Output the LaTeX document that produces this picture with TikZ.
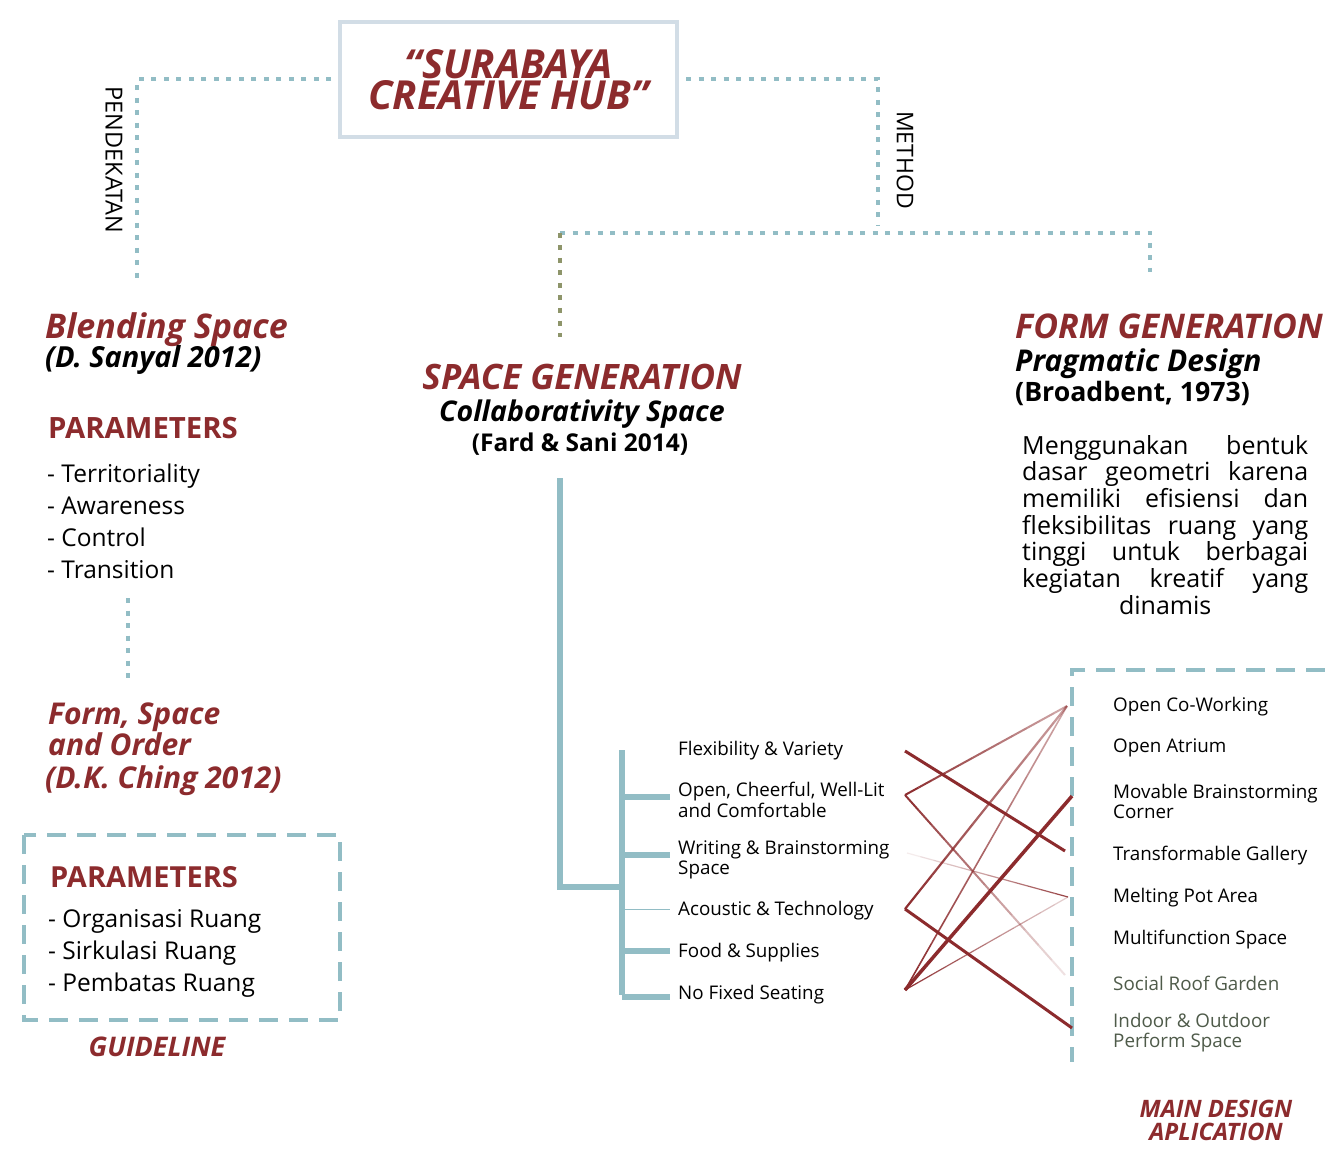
\documentclass[tikz,border=0pt]{standalone}
\usepackage{fontspec}
\setmainfont{Open Sans}
\usetikzlibrary{calc}
\definecolor{dred}{HTML}{8C2B2D}
\definecolor{teal1}{HTML}{92BDC5}
\definecolor{olive1}{HTML}{8E956A}
\definecolor{gtext}{HTML}{4F5B4A}
\definecolor{boxb}{HTML}{D2DDE6}
\newcommand\fz[2]{\fontsize{#1}{#2}\selectfont}
\newcommand\fadeln[5]{%
  \foreach \i in {0,...,11}{%
    \pgfmathsetmacro\op{#3+(#4-#3)*(\i+0.5)/12}%
    \draw[dred, line width=#5, opacity=\op] ($(#1)!{\i/12}!(#2)$) -- ($(#1)!{(\i+1)/12}!(#2)$);
  }}
\begin{document}
\begin{tikzpicture}[x=1pt,y=-1pt,
  txt/.style={anchor=west,inner sep=0pt,text height=0pt,text depth=0pt},
  ctxt/.style={txt,anchor=center},
  fnt/.style n args={2}{font=\fz{#1}{#1}#2,yshift={-0.357*#1}},
  item/.style={txt,fnt={18.8}{}},
  gitem/.style={item,text=gtext},
  listit/.style={txt,fnt={24.5}{}},
  dotline/.style={teal1,line width=4pt,dash pattern=on 5pt off 7.5pt},
  dashbox/.style={teal1,line width=4pt,dash pattern=on 19pt off 11pt},
  tree/.style={teal1,line width=5.5pt},
  rl/.style={dred,line width=3pt},
  vlab/.style={anchor=center,inner sep=0pt,rotate=-90,font=\fz{23.5}{25}},
]
\fill[white] (0,0) rectangle (1325,1150);
\useasboundingbox (0,0) rectangle (1325,1150);

% ---------- title
\node[draw=boxb,line width=4pt,minimum width=337pt,minimum height=115pt,inner sep=0pt,
      align=center,font=\fz{40}{31}\bfseries\itshape,text=dred] (title) at (508.5,79.5)
      {“SURABAYA\\CREATIVE HUB”};

% ---------- dotted connectors
\coordinate (pl) at (137,285);
\draw[dotline] ([xshift=-7pt]title.west) -| (pl);
\node[vlab] (pend) at (114,160) {PENDEKATAN};

\coordinate (mt) at (878,226);
\draw[dotline] ([xshift=7pt]title.east) -| (mt);
\node[vlab,font=\fz{23}{25}] (meth) at (905,160) {METHOD};

\coordinate (hl) at (560,233);
\coordinate (hr) at (1150,272);
\coordinate (sgt) at (560,337);
\draw[dotline] (hl) -| (hr);
\draw[dotline,olive1] (hl) -- (sgt);

% ---------- left column
\node[txt,fnt={34}{\bfseries\itshape},text=dred] (blend) at (45,326) {Blending Space};
\node[txt,fnt={29}{\bfseries\itshape}] (blendsub) at (45,357) {(D. Sanyal 2012)};
\node[txt,fnt={29.3}{\bfseries},text=dred] (par1) at (48,428) {PARAMETERS};
\node[listit] (l1) at (47,474) {- Territoriality};
\node[listit] (l2) at (47,506) {- Awareness};
\node[listit] (l3) at (47,538) {- Control};
\node[listit] (l4) at (47,570) {- Transition};
\coordinate (d1) at (128,598);
\coordinate (d2) at (128,680);
\draw[dotline] (d1) -- (d2);

\node[txt,fnt={30}{\bfseries\itshape},text=dred] (fso1) at (48,714) {Form, Space};
\node[txt,fnt={30}{\bfseries\itshape},text=dred] (fso2) at (48,745) {and Order};
\node[txt,fnt={30}{\bfseries\itshape},text=dred] (fso3) at (45,778) {(D.K. Ching 2012)};

\draw[dashbox] (24,835) rectangle (340,1020);
\node[txt,fnt={29}{\bfseries},text=dred] (par2) at (50,877) {PARAMETERS};
\node[listit] (g1) at (48,919) {- Organisasi Ruang};
\node[listit] (g2) at (48,951) {- Sirkulasi Ruang};
\node[listit] (g3) at (48,983) {- Pembatas Ruang};
\node[ctxt,fnt={27}{\bfseries\itshape},text=dred] (guide) at (157,1047) {GUIDELINE};

% ---------- middle column
\node[ctxt,fnt={35}{\bfseries\itshape},text=dred] (sg) at (582,377) {SPACE GENERATION};
\node[ctxt,fnt={28.5}{\bfseries\itshape}] (sgsub) at (582,411) {Collaborativity Space};
\node[ctxt,fnt={24.5}{\bfseries}] (sgref) at (580,443) {(Fard \& Sani 2014)};

\coordinate (s0) at (560,478);
\coordinate (s1) at (560,887);
\coordinate (s2) at (622,887);
\coordinate (vt) at (622,750);
\coordinate (vb) at (622,995);
\draw[tree] (s0) -- (s1) -- (s2);
\draw[tree] (vt) -- (vb);

\node[item] (a1) at (678,749) {Flexibility \& Variety};
\node[item] (a2) at (678,790) {Open, Cheerful, Well-Lit};
\node[item] (a2b) at (678,811) {and Comfortable};
\node[item] (a3) at (678,848) {Writing \& Brainstorming};
\node[item] (a3b) at (678,868) {Space};
\node[item] (a4) at (678,909) {Acoustic \& Technology};
\node[item] (a5) at (678,951) {Food \& Supplies};
\node[item] (a6) at (678,993) {No Fixed Seating};

\coordinate (y2) at (622,797);
\coordinate (y3) at (622,855);
\coordinate (y4) at (622,909);
\coordinate (y5) at (622,951);
\draw[tree] (y2) -- (y2 -| 670,0);
\draw[tree] (y3) -- (y3 -| 670,0);
\draw[teal1,line width=0.8pt] (y4) -- (y4 -| 670,0);
\draw[tree] (y5) -- (y5 -| 670,0);
\draw[tree] ([yshift=-2pt]vb) -- ([yshift=-2pt]vb -| 670,0);

% ---------- right column
\node[txt,fnt={34}{\bfseries\itshape},text=dred] (fg) at (1015,326) {FORM GENERATION};
\node[txt,fnt={30}{\bfseries\itshape}] (fgsub) at (1015,361) {Pragmatic Design};
\node[txt,fnt={26.7}{\bfseries}] (fgref) at (1015,392) {(Broadbent, 1973)};

\node[anchor=north west,inner sep=0pt,align=left,font=\fz{25}{26.7}] (para) at (1022,435)
 {\makebox[286pt][s]{Menggunakan bentuk}\\
  \makebox[286pt][s]{dasar geometri karena}\\
  \makebox[286pt][s]{memiliki efisiensi dan}\\
  \makebox[286pt][s]{fleksibilitas ruang yang}\\
  \makebox[286pt][s]{tinggi untuk berbagai}\\
  \makebox[286pt][s]{kegiatan kreatif yang}\\
  \makebox[286pt][c]{dinamis}};

\coordinate (bx1) at (1325,670);
\coordinate (bx2) at (1072,670);
\coordinate (bx3) at (1072,1062);
\draw[dashbox] (bx1) -- (bx2) -- (bx3);

\node[item] (b1) at (1113,705) {Open Co-Working};
\node[item] (b2) at (1113,746) {Open Atrium};
\node[item] (b3) at (1113,792) {Movable Brainstorming};
\node[item] (b3b) at (1113,812) {Corner};
\node[item] (b4) at (1113,854) {Transformable Gallery};
\node[item] (b5) at (1113,896) {Melting Pot Area};
\node[item] (b6) at (1113,938) {Multifunction Space};
\node[gitem] (b7) at (1113,984) {Social Roof Garden};
\node[gitem] (b8) at (1113,1021) {Indoor \& Outdoor};
\node[gitem] (b8b) at (1113,1041) {Perform Space};

\node[align=center,inner sep=0pt,font=\fz{24}{23}\bfseries\itshape,text=dred] (mda) at (1216,1120)
 {MAIN DESIGN\\APLICATION};

% ---------- red connectors
\coordinate (L1) at (905,751);
\coordinate (L2) at (905,795);
\coordinate (L3) at (907,853);
\coordinate (L4) at (905,909);
\coordinate (L5) at (905,990);
\coordinate (ROC) at (1067,706);
\coordinate (RMV) at (1072,796);
\coordinate (RTG) at (1065,851);
\coordinate (RMP) at (1068,897);
\coordinate (RSR) at (1065,975);
\coordinate (RIO) at (1072,1028);

\draw[rl] (L1) -- (RTG);
\fadeln{L2}{ROC}{1}{0.4}{2pt}
\fadeln{L2}{RSR}{1}{0.1}{2pt}
\fadeln{L3}{RMP}{0.05}{0.9}{1.2pt}
\fadeln{L4}{ROC}{1}{0.45}{2.2pt}
\draw[rl] (L4) -- (RIO);
\draw[rl,line width=3.5pt] (L5) -- (RMV);
\fadeln{L5}{ROC}{1}{0.4}{1.6pt}
\fadeln{L5}{RMP}{1}{0.2}{1.2pt}
\end{tikzpicture}
\end{document}
